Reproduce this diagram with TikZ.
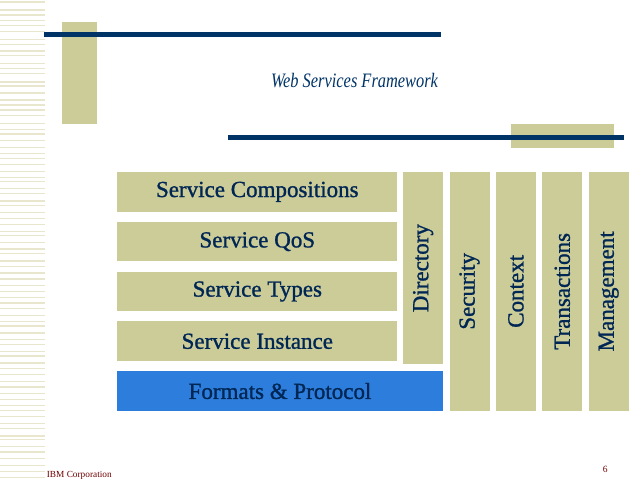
\documentclass[tikz,border=0pt]{standalone}
\usepackage{fontspec}
\setmainfont{Liberation Serif}
\newfontfamily\heavyserif{Liberation Serif}[FakeBold=1.1]
\usetikzlibrary{positioning}
\definecolor{navy}{RGB}{0,51,102}
\definecolor{ink}{RGB}{0,38,84}
\definecolor{tan}{RGB}{204,204,153}
\definecolor{pale}{RGB}{232,230,204}
\definecolor{proto}{RGB}{45,125,220}
\definecolor{maroon}{RGB}{110,0,0}

\begin{document}
\begin{tikzpicture}[x=1bp,y=-1bp,node distance=9.7bp,
		layer/.style={fill=tan,text=ink,inner sep=0pt,minimum width=280bp,minimum height=39.7bp,font=\heavyserif\fontsize{23bp}{26bp}\selectfont},
		column/.style={fill=tan,text=ink,inner sep=0pt,minimum width=40bp,font=\heavyserif\fontsize{23bp}{26bp}\selectfont}]
		\useasboundingbox (0,0) rectangle (640,480);
		\pgfmathsetseed{7}
		\foreach \i in {0,...,79}
			\fill[pale] (0,{\i*6+1+2*rnd}) rectangle ++(45,{0.8+rnd});
		\fill[tan]  (62,22.3)  rectangle (96.7,123.7);
		\fill[navy] (44,32.3)  rectangle (440.7,37);
		\fill[tan]  (511,124)  rectangle (613.7,148);
		\fill[navy] (228,135)  rectangle (624,140);
		\node[text=navy,font=\fontsize{16.4bp}{18bp}\selectfont\itshape] (title) at (354.5,81) {\scalebox{1}[1.25]{Web Services Framework}};

		\node[layer] (comp) at (257.3,191.85) {Service Compositions};
		\node[layer,below=of comp] (qos)   {Service QoS};
		\node[layer,below=of qos]  (types) {Service Types};
		\node[layer,below=of types] (inst) {Service Instance};
		\node[layer,fill=proto,minimum width=325.4bp,below=of inst.south west,anchor=north west] (formats) {Formats \& Protocol};

		\node[column,minimum height=192.3bp,right=5.4bp of comp.north east,anchor=north west] (dir) {\rotatebox{90}{Directory}};
		\node[column,minimum height=238.7bp,right=6bp of dir.north east,anchor=north west]    (sec)   {\rotatebox{90}{Security}};
		\node[column,minimum height=238.7bp,right=6bp of sec]   (ctx)   {\rotatebox{90}{Context}};
		\node[column,minimum height=238.7bp,right=6bp of ctx]   (trans) {\rotatebox{90}{Transactions}};
		\node[column,minimum height=238.7bp,right=6bp of trans] (mgmt)  {\rotatebox{90}{Management}};

		\node[anchor=base west,text=maroon,inner sep=0pt,font=\fontsize{9.3bp}{10bp}\selectfont] (corp) at (46.7,477.7) {IBM Corporation};
		\node[anchor=base west,text=maroon,inner sep=0pt,font=\fontsize{9.5bp}{10bp}\selectfont] (page) at (602.7,472.7) {6};
	\end{tikzpicture}
\end{document}
